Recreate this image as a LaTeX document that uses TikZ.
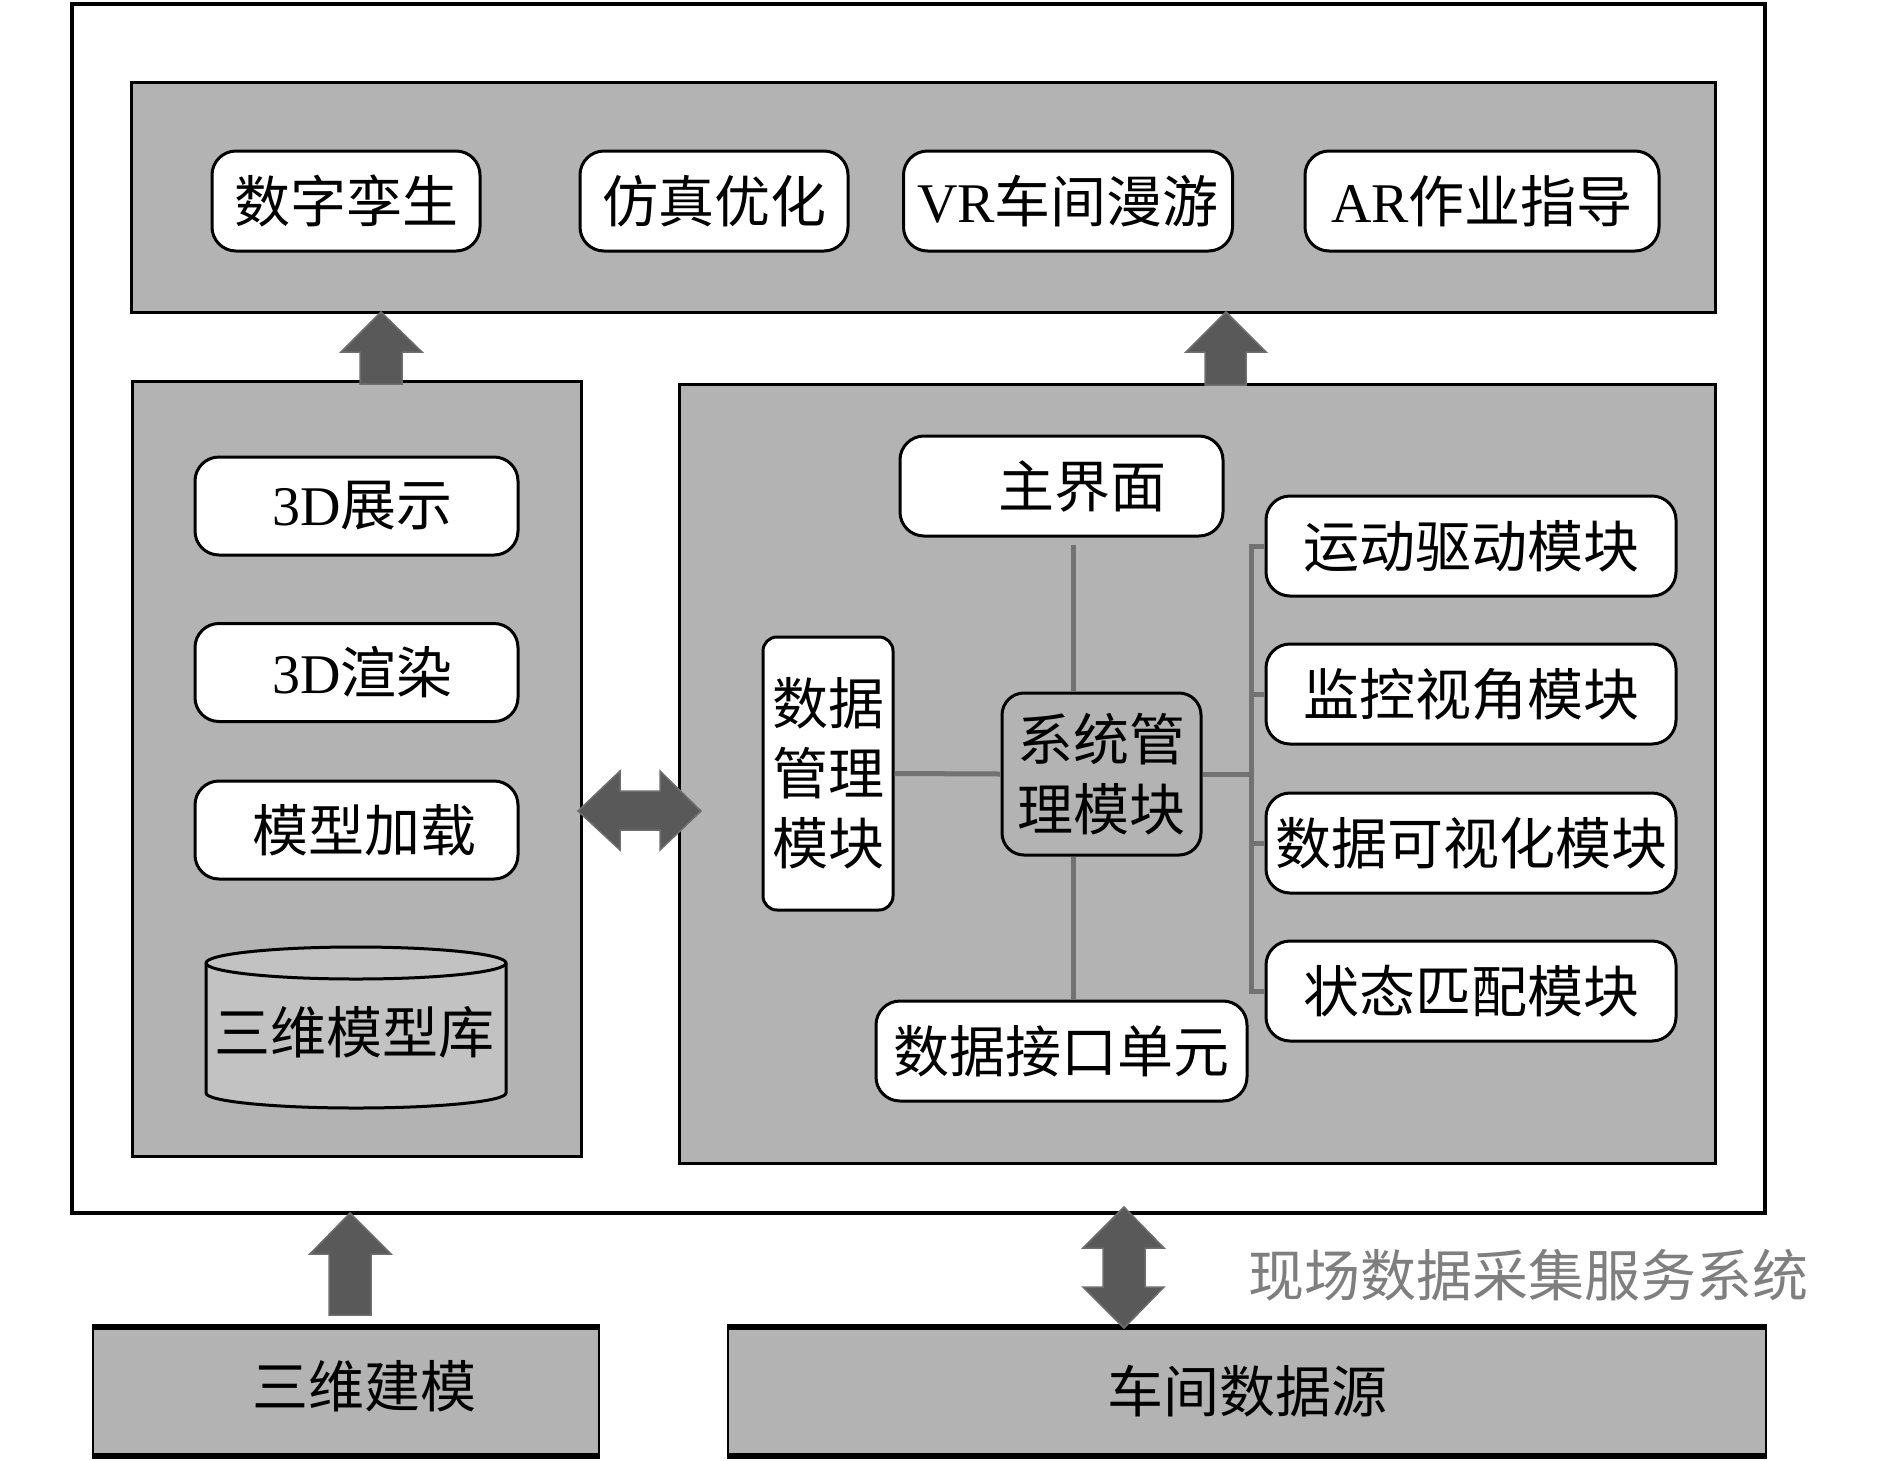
\documentclass[tikz,border=0pt]{standalone}
\usepackage{fontspec}
\setmainfont{Liberation Serif}
\newfontfamily\cjk{Noto Sans CJK SC}
\usetikzlibrary{calc}
\definecolor{panelgray}{HTML}{B3B3B3}
\definecolor{cylgray}{HTML}{C2C2C2}
\definecolor{arrowgray}{HTML}{595959}
\definecolor{arrowedge}{HTML}{6E6E6E}
\definecolor{conngray}{HTML}{727272}
\definecolor{labelgray}{HTML}{7F7F7F}
\newcommand\zh{\cjk\fontsize{56}{70}\selectfont}
\newcommand\lt[1]{{\rmfamily #1}}
\begin{document}
\begin{tikzpicture}[x=1pt,y=-1pt,
  panel/.style={draw=black,line width=3pt,fill=panelgray,inner sep=0pt},
  rbox/.style={draw=black,line width=3pt,fill=white,rounded corners=24pt,inner sep=0pt,font=\zh,align=center},
  gbox/.style={rbox,fill=panelgray},
  conn/.style={draw=conngray,line width=5pt},
  bigarrow/.style={fill=arrowgray,draw=arrowedge,line width=1.5pt,line join=miter},
  basebox/.style={draw=black,line width=2.5pt,fill=panelgray,inner sep=0pt,font=\zh},
  txt/.style={font=\zh,inner sep=0pt}]
\useasboundingbox (0,0) rectangle (1890,1460);
\fill[white] (0,0) rectangle (1890,1460);
% outer frame
\node[draw=black,line width=4pt,minimum width=1693pt,minimum height=1209pt,inner sep=0pt] (frame) at (918.5,608.5) {};
% panels
\node[panel,minimum width=1584pt,minimum height=230pt] (toppanel) at (923,197) {};
\node[panel,minimum width=449pt,minimum height=775pt] (leftpanel) at (356.5,768.5) {};
\node[panel,minimum width=1036pt,minimum height=779pt] (rightpanel) at (1197,773.5) {};
% top boxes
\node[rbox,minimum width=268pt,minimum height=100pt] (dt) at (346,201) {数字孪生};
\node[rbox,minimum width=268pt,minimum height=100pt] (sim) at (714,201) {仿真优化};
\node[rbox,minimum width=329pt,minimum height=100pt] (vr) at (1068,201) {\lt{VR}车间漫游};
\node[rbox,minimum width=354pt,minimum height=100pt] (ar) at (1482,201) {\lt{AR}作业指导};
% left boxes
\node[rbox,minimum width=323pt,minimum height=98pt] (show) at (356.5,506) {\hspace{12pt}\lt{3D}展示};
\node[rbox,minimum width=323pt,minimum height=98pt] (render) at (356.5,672.5) {\hspace{12pt}\lt{3D}渲染};
\node[rbox,minimum width=323pt,minimum height=98pt] (load) at (356.5,830) {\hspace{16pt}模型加载};
% cylinder
\path[draw=black,fill=cylgray,line width=3pt] (206,963) -- (206,1093)
  arc[start angle=180,end angle=360,x radius=150pt,y radius=15pt] -- (506,963)
  arc[start angle=0,end angle=180,x radius=150pt,y radius=16pt] -- cycle;
\draw[line width=3pt] (206,963) arc[start angle=180,end angle=360,x radius=150pt,y radius=16pt];
\node[txt] (lib) at (354,1032) {三维模型库};
% right panel boxes
\node[rbox,minimum width=323pt,minimum height=100pt] (main) at (1061.5,486) {};
\node[txt] (maintxt) at (1082,486) {主界面};
\node[rbox,minimum width=410pt,minimum height=100pt] (m1) at (1471,546) {运动驱动模块};
\node[rbox,minimum width=410pt,minimum height=100pt] (m2) at (1471,694) {监控视角模块};
\node[rbox,minimum width=410pt,minimum height=100pt] (m3) at (1471,843) {数据可视化模块};
\node[rbox,minimum width=410pt,minimum height=100pt] (m4) at (1471,991) {状态匹配模块};
\node[rbox,rounded corners=14pt,minimum width=130pt,minimum height=273pt] (dm) at (828,773.5) {数据\\管理\\模块};
\node[gbox,rounded corners=22pt,minimum width=199pt,minimum height=162pt] (sys) at (1101.5,774) {系统管\\理模块};
\node[rbox,minimum width=371pt,minimum height=100pt] (iface) at (1061.5,1051) {数据接口单元};
% connectors
\coordinate (vx) at (1073,0);
\coordinate (bx) at (1251,0);
\draw[conn] ([yshift=-7pt]main.south -| vx) -- (sys.north -| vx);
\draw[conn] (sys.south -| vx) -- (iface.north -| vx);
\draw[conn] (dm.east) -- (sys.west);
\draw[conn] (sys.east) -- (sys.east -| bx);
\draw[conn,line cap=rect] (m1.west -| bx) -- (m4.west -| bx);
\foreach \m in {m1,m2,m3,m4} \draw[conn] (\m.west -| bx) -- (\m.west);
% block arrows
\draw[bigarrow] (381,312) -- (422,352) -- (402,352) -- (402,384) -- (360,384) -- (360,352) -- (341,352) -- cycle;
\draw[bigarrow] (1226,312) -- (1266,352) -- (1246,352) -- (1246,385) -- (1205,385) -- (1205,352) -- (1186,352) -- cycle;
\draw[bigarrow] (578,811) -- (620,771) -- (620,791) -- (660,791) -- (660,771) -- (701,811) -- (660,850) -- (660,830) -- (620,830) -- (620,850) -- cycle;
% bottom boxes
\node[basebox,minimum width=506pt,minimum height=127pt] (model) at (346,1391.5) {};
\node[txt] (modeltxt) at (364,1386) {三维建模};
\node[basebox,minimum width=1038pt,minimum height=127pt] (src) at (1247,1391.5) {车间数据源};
\foreach \b in {model,src} {
  \draw[line width=6pt] (\b.north west) -- (\b.north east);
  \draw[line width=6pt] (\b.south west) -- (\b.south east);
}
\draw[bigarrow] (350,1213) -- (391,1254) -- (371,1254) -- (371,1315) -- (329,1315) -- (329,1254) -- (310,1254) -- cycle;
\draw[bigarrow] (1124,1207) -- (1164,1248) -- (1145,1248) -- (1145,1287) -- (1164,1287) -- (1124,1328) -- (1083,1287) -- (1103,1287) -- (1103,1248) -- (1083,1248) -- cycle;
\node[txt,text=labelgray] (lbl) at (1528,1275) {现场数据采集服务系统};
\end{tikzpicture}
\end{document}
